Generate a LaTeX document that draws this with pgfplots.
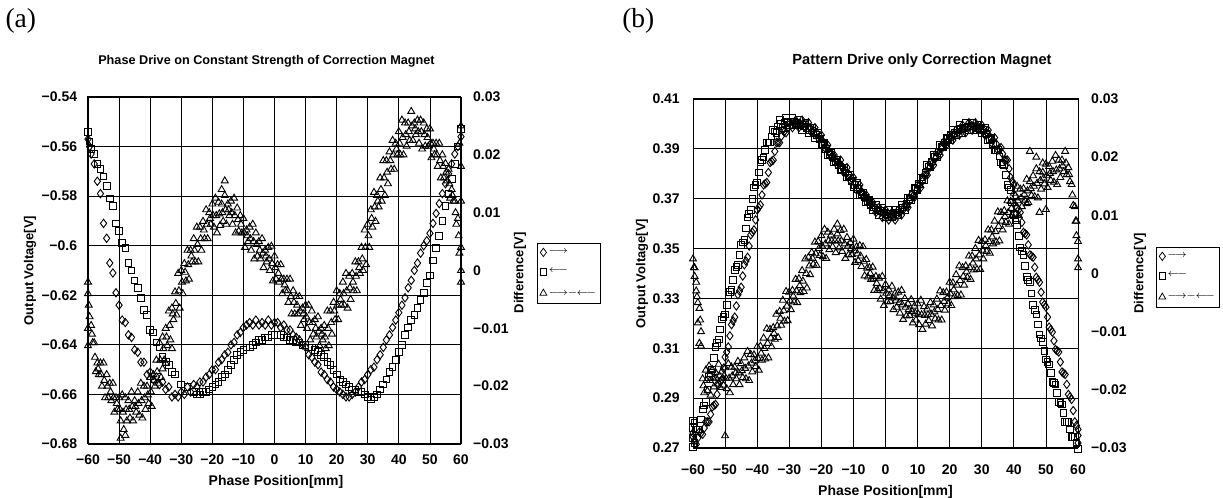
\documentclass[border=0pt]{standalone}
\usepackage{pgfplots}
\pgfplotsset{compat=1.18}
\usepackage{fontspec}
\setmainfont{Liberation Sans}
\newfontfamily\seriffont{Liberation Serif}

\pgfplotsset{
  dia/.style={only marks, mark=diamond, mark size=2.5pt, mark options={draw=black, fill=none, line width=0.55pt}},
  sqr/.style={only marks, mark=square, mark size=2.0pt, mark options={draw=black, fill=none, line width=0.55pt}},
  tri/.style={only marks, mark=triangle, mark size=2.4pt, mark options={draw=black, fill=none, line width=0.55pt}},
  common/.style={scale only axis, anchor=south west, xmin=-60, xmax=60, clip=false,
    tick label style={font=\bfseries\fontsize{8.4}{10}\selectfont},
    xlabel style={font=\bfseries\fontsize{8.4}{10}\selectfont},
    ylabel style={font=\bfseries\fontsize{7.8}{9}\selectfont},
    major tick length=0pt, axis line style={line width=0.6pt}},
  leftax/.style={common,
    xtick={-60,-50,...,60},
    xticklabels={−60,−50,−40,−30,−20,−10,0,10,20,30,40,50,60},
    grid=major, grid style={black, line width=0.45pt},
    xlabel={Phase Position[mm]}, ylabel={Output Voltage[V]}},
  rightax/.style={common, axis x line=none, axis y line*=right,
    ymin=-0.03, ymax=0.03, scaled y ticks=false,
    ytick={-0.03,-0.02,-0.01,0,0.01,0.02,0.03},
    yticklabels={−0.03,−0.02,−0.01,0,0.01,0.02,0.03},
    ylabel={Difference[V]},
    legend cell align=left,
    legend image code/.code={\draw[#1, mark options={line width=0.45pt}] plot coordinates {(0cm,0cm)};},
    legend style={anchor=north west, draw=black, line width=0.4pt,
      font=\fontsize{6}{7}\selectfont, row sep=6pt, inner xsep=1.5pt, inner ysep=2.5pt,
      nodes={inner sep=1pt}}},
}

\begin{document}
\begin{tikzpicture}
\useasboundingbox (0,0) rectangle (733.8pt,298.8pt);
\node[font=\seriffont\fontsize{16.5}{18}\selectfont] at (12.5pt,286.5pt) {(a)};
\node[font=\seriffont\fontsize{16.5}{18}\selectfont] at (383pt,286.5pt) {(b)};
\node[font=\bfseries\fontsize{7.6}{9}\selectfont] at (159.9pt,262.2pt) {Phase Drive on Constant Strength of Correction Magnet};
\node[font=\bfseries\fontsize{8.8}{10}\selectfont] at (553.2pt,262.2pt) {Pattern Drive only Correction Magnet};

%================ (a) =================
\begin{axis}[leftax, at={(52.8pt,32.4pt)}, width=223.8pt, height=208.2pt,
  ymin=-0.68, ymax=-0.54,
  ytick={-0.68,-0.66,-0.64,-0.62,-0.6,-0.58,-0.56,-0.54},
  yticklabels={−0.68,−0.66,−0.64,−0.62,−0.6,−0.58,−0.56,−0.54},
  xticklabel style={yshift=-2.8pt}, yticklabel style={xshift=-3pt},
  xlabel style={at={(axis description cs:0.504,-0.108)}, anchor=center},
  ylabel style={at={(axis description cs:-0.1555,0.5)}, anchor=center}]
\addplot[dia] coordinates {
(-60,-0.557)(-59.5,-0.560)(-59,-0.563)(-58,-0.567)(-57,-0.574)(-56,-0.579)(-55,-0.591)(-54,-0.597)
(-53,-0.607)(-52,-0.611)(-51,-0.619)(-50,-0.624)(-49,-0.630)(-48,-0.631)(-47,-0.636)(-46,-0.637)
(-45,-0.642)(-44,-0.643)(-43,-0.647)(-42,-0.647)(-41,-0.652)(-40,-0.651)(-39,-0.654)(-38,-0.653)
(-37,-0.656)(-36,-0.655)(-35,-0.658)(-34,-0.657)(-33,-0.661)(-32,-0.660)(-31,-0.661)(-30,-0.659)
(-29,-0.660)(-28,-0.657)(-27,-0.659)(-26,-0.656)(-25,-0.657)(-24,-0.655)(-23,-0.655)(-22,-0.653)
(-21,-0.652)(-20,-0.650)(-19,-0.650)(-18,-0.647)(-17,-0.646)(-16,-0.644)(-15,-0.643)(-14,-0.640)
(-13,-0.639)(-12,-0.636)(-11,-0.635)(-10,-0.633)(-9,-0.632)(-8,-0.631)(-7,-0.632)(-6,-0.630)
(-5,-0.632)(-4,-0.631)(-3,-0.632)(-2,-0.630)(-1,-0.632)(0,-0.631)(1,-0.631)(2,-0.633)
(3,-0.632)(4,-0.634)(5,-0.634)(6,-0.636)(7,-0.637)(8,-0.638)(9,-0.640)(10,-0.641)
(11,-0.644)(12,-0.645)(13,-0.647)(14,-0.648)(15,-0.651)(16,-0.652)(17,-0.654)(18,-0.655)
(19,-0.657)(20,-0.658)(21,-0.659)(22,-0.660)(23,-0.661)(24,-0.661)(25,-0.660)(26,-0.659)
(27,-0.657)(28,-0.655)(29,-0.654)(30,-0.652)(31,-0.650)(32,-0.649)(33,-0.646)(34,-0.644)
(35,-0.641)(36,-0.638)(37,-0.636)(38,-0.633)(39,-0.630)(40,-0.627)(41,-0.624)(42,-0.621)
(43,-0.617)(44,-0.614)(45,-0.610)(46,-0.607)(47,-0.603)(48,-0.600)(49,-0.598)(50,-0.595)
(51,-0.591)(52,-0.587)(53,-0.583)(54,-0.579)(55,-0.575)(56,-0.571)(57,-0.567)(58,-0.563)
(59,-0.560)(60,-0.556)
};
\addplot[sqr] coordinates {
(-60,-0.554)(-59.5,-0.558)(-59,-0.561)(-58,-0.563)(-57,-0.567)(-56,-0.569)(-55,-0.572)(-54,-0.576)
(-53,-0.581)(-52,-0.584)(-51,-0.591)(-50,-0.594)(-49,-0.599)(-48,-0.601)(-47,-0.607)(-46,-0.610)
(-45,-0.614)(-44,-0.617)(-43,-0.621)(-42,-0.626)(-41,-0.628)(-40,-0.634)(-39,-0.635)(-38,-0.639)
(-37,-0.641)(-36,-0.645)(-35,-0.647)(-34,-0.648)(-33,-0.651)(-32,-0.652)(-30,-0.656)(-28,-0.657)
(-26,-0.659)(-25,-0.660)(-24,-0.660)(-23,-0.659)(-22,-0.659)(-21,-0.658)(-20,-0.657)(-19,-0.656)
(-18,-0.655)(-17,-0.653)(-16,-0.652)(-15,-0.650)(-14,-0.648)(-13,-0.646)(-12,-0.644)(-11,-0.643)
(-10,-0.642)(-9,-0.641)(-8,-0.641)(-7,-0.640)(-6,-0.639)(-5,-0.638)(-4,-0.638)(-3,-0.637)
(-2,-0.637)(-1,-0.636)(0,-0.636)(1,-0.636)(2,-0.636)(3,-0.637)(4,-0.637)(5,-0.638)
(6,-0.638)(7,-0.639)(8,-0.639)(9,-0.640)(10,-0.640)(11,-0.641)(12,-0.641)(13,-0.642)
(14,-0.643)(15,-0.644)(16,-0.645)(17,-0.647)(18,-0.648)(19,-0.650)(20,-0.652)(21,-0.654)
(22,-0.655)(23,-0.656)(24,-0.657)(25,-0.658)(26,-0.658)(27,-0.659)(28,-0.659)(29,-0.660)
(30,-0.661)(31,-0.662)(32,-0.661)(33,-0.660)(34,-0.658)(35,-0.656)(36,-0.654)(37,-0.651)
(38,-0.649)(39,-0.646)(40,-0.643)(41,-0.640)(42,-0.636)(43,-0.633)(44,-0.630)(45,-0.628)
(46,-0.625)(47,-0.622)(48,-0.619)(49,-0.615)(50,-0.612)(51,-0.606)(52,-0.601)(53,-0.596)
(54,-0.590)(55,-0.584)(56,-0.579)(57,-0.573)(58,-0.567)(59,-0.560)(60,-0.553)
};
\end{axis}
\begin{axis}[rightax, at={(52.8pt,32.4pt)}, width=223.8pt, height=208.2pt,
  yticklabel style={xshift=3.8pt},
  ylabel style={at={(axis description cs:1.158,0.493)}, anchor=center},
  legend style={at={(axis description cs:1.204,0.579)}}]
\addlegendimage{dia}
\addlegendentry{$\longrightarrow$}
\addlegendimage{sqr}
\addlegendentry{$\longleftarrow$}
\addplot[tri] coordinates {
(-60,-0.004)(-59.5,-0.008)(-60,-0.002)(-60,-0.010)(-60,-0.013)
(-59,-0.0095)(-58.5,-0.0125)(-58,-0.0125)(-57.5,-0.0175)(-57,-0.016)(-56.5,-0.018)
(-56,-0.016)(-55.5,-0.020)(-55,-0.016)(-54.5,-0.022)(-54,-0.018)(-53.5,-0.022)
(-53,-0.0195)(-52.5,-0.0225)(-52,-0.0195)(-51.5,-0.0245)(-51,-0.022)(-50.5,-0.024)
(-50,-0.022)(-49.5,-0.026)(-49,-0.0215)(-48.5,-0.0275)(-48,-0.022)(-47.5,-0.026)
(-47,-0.0225)(-46.5,-0.0255)(-46,-0.021)(-45.5,-0.026)(-45,-0.0225)(-44.5,-0.0245)
(-44,-0.021)(-43.5,-0.025)(-43,-0.0195)(-42.5,-0.0255)(-42,-0.020)(-41.5,-0.024)
(-41,-0.020)(-40.5,-0.023)(-40,-0.0185)(-39.5,-0.0235)(-39,-0.018)(-38.5,-0.020)
(-38,-0.0155)(-37.5,-0.0195)(-37,-0.0125)(-36.5,-0.0185)(-36,-0.0115)(-35.5,-0.0155)
(-35,-0.010)(-34.5,-0.013)(-34,-0.007)(-33.5,-0.012)(-33,-0.0065)(-32.5,-0.0085)
(-32,-0.0037)(-31.5,-0.0077)(-31,-0.0005)(-30.5,-0.0065)(-30,0.0)(-29.5,-0.004)
(-29,0.0012)(-28.5,-0.0018)(-28,0.0035)(-27.5,-0.0015)(-27,0.0035)(-26.5,0.0015)
(-26,0.0055)(-25.5,0.0015)(-25,0.0075)(-24.5,0.0015)(-24,0.0075)(-23.5,0.0035)
(-23,0.0085)(-22.5,0.0055)(-22,0.0105)(-21.5,0.0055)(-21,0.010)(-20.5,0.008)
(-20,0.0115)(-19.5,0.0075)(-19,0.0125)(-18.5,0.0065)(-18,0.0118)(-17.5,0.0078)
(-17,0.0115)(-16.5,0.0085)(-16,0.013)(-15.5,0.008)(-15,0.0115)(-14.5,0.0095)
(-14,0.012)(-13.5,0.008)(-13,0.0125)(-12.5,0.0065)(-12,0.0108)(-11.5,0.0068)
(-11,0.0095)(-10.5,0.0065)(-10,0.009)(-9.5,0.004)(-9,0.007)(-8.5,0.005)
(-8,0.0075)(-7.5,0.0035)(-7,0.008)(-6.5,0.002)(-6,0.0065)(-5.5,0.0025)
(-5,0.005)(-4.5,0.002)(-4,0.0055)(-3.5,0.0005)(-3,0.0035)(-2.5,0.0015)
(-2,0.004)(-1.5,0.0)(-1,0.0042)(-0.5,-0.0018)(0,0.0025)(0.5,-0.0015)
(1,0.001)(1.5,-0.002)(2,0.001)(2.5,-0.004)(3,-0.0015)(3.5,-0.0035)
(4,-0.0015)(4.5,-0.0055)(5,-0.0015)(5.5,-0.0075)(6,-0.0035)(6.5,-0.0075)
(7,-0.0045)(7.5,-0.0075)(8,-0.0045)(8.5,-0.0095)(9,-0.0065)(9.5,-0.0085)
(10,-0.006)(10.5,-0.010)(11,-0.006)(11.5,-0.012)(12,-0.007)(12.5,-0.011)
(13,-0.0085)(13.5,-0.0115)(14,-0.008)(14.5,-0.013)(15,-0.010)(15.5,-0.012)
(16,-0.0095)(16.5,-0.0135)(17,-0.007)(17.5,-0.013)(18,-0.007)(18.5,-0.011)
(19,-0.0055)(19.5,-0.0085)(20,-0.0035)(20.5,-0.0085)(21,-0.004)(21.5,-0.006)
(22,-0.002)(22.5,-0.006)(23,-0.0005)(23.5,-0.0065)(24,-0.001)(24.5,-0.005)
(25,-0.0005)(25.5,-0.0035)(26,0.0015)(26.5,-0.0035)(27,0.0015)(27.5,-0.0005)
(28,0.004)(28.5,0.0)(29,0.007)(29.5,0.001)(30,0.008)(30.5,0.004)
(31,0.0105)(31.5,0.0075)(32,0.0135)(32.5,0.0085)(33,0.013)(33.5,0.011)
(34,0.016)(34.5,0.012)(35,0.019)(35.5,0.013)(36,0.019)(36.5,0.015)
(37,0.0205)(37.5,0.0175)(38,0.0225)(38.5,0.0175)(39,0.022)(39.5,0.020)
(40,0.024)(40.5,0.020)(41,0.026)(41.5,0.020)(42,0.0255)(42.5,0.0215)
(43,0.0255)(43.5,0.0225)(44,0.0275)(44.5,0.0225)(45,0.0255)(45.5,0.0235)
(46,0.026)(46.5,0.022)(47,0.026)(47.5,0.021)(48,0.0255)(48.5,0.0215)
(49,0.0245)(49.5,0.0215)(50,0.0245)(50.5,0.0195)(51,0.022)(51.5,0.020)
(52,0.022)(52.5,0.018)(53,0.022)(53.5,0.016)(54,0.020)(54.5,0.016)
(55,0.0185)(55.5,0.0155)(56,0.0175)(56.5,0.0125)(57,0.014)(57.5,0.012)
(58,0.012)(58.5,0.008)(59,0.009)(59.5,0.003)(60,0.004)(60,0.0)(60,-0.002)
(60,0.012)(60,0.018)(59.5,0.022)(60,0.025)
(-16,0.0155)(-17,0.014)(-35,-0.016)(-36,-0.017)(-33,-0.0135)(-48,-0.0285)(-49.5,-0.029)
(-59.75,-0.006)(-58.75,-0.011)(-57.75,-0.015)(-56.75,-0.017)(-55.75,-0.018)(-54.75,-0.019)
(-53.75,-0.020)(-52.75,-0.021)(-51.75,-0.022)(-50.75,-0.023)(-49.75,-0.024)(-48.75,-0.0245)
(-47.75,-0.024)(-46.75,-0.024)(-45.75,-0.0235)(-44.75,-0.0235)(-43.75,-0.023)(-42.75,-0.0225)
(-41.75,-0.022)(-40.75,-0.0215)(-39.75,-0.021)(-38.75,-0.019)(-37.75,-0.0175)(-36.75,-0.0155)
(-35.75,-0.0135)(-34.75,-0.0115)(-33.75,-0.0095)(-32.75,-0.0075)(-31.75,-0.0057)(-30.75,-0.0035)
(-29.75,-0.002)(-28.75,-0.0003)(-27.75,0.001)(-26.75,0.0025)(-25.75,0.0035)(-24.75,0.0045)
(-23.75,0.0055)(-22.75,0.007)(-21.75,0.008)(-20.75,0.009)(-19.75,0.0095)(-18.75,0.0095)
(-17.75,0.0098)(-16.75,0.010)(-15.75,0.0105)(-14.75,0.0105)(-13.75,0.010)(-12.75,0.0095)
(-11.75,0.0088)(-10.75,0.008)(-9.75,0.0065)(-8.75,0.006)(-7.75,0.0055)(-6.75,0.005)
(-5.75,0.0045)(-4.75,0.0035)(-3.75,0.003)(-2.75,0.0025)(-1.75,0.002)(-0.75,0.0012)
(0.25,0.0005)(1.25,-0.0005)(2.25,-0.0015)(3.25,-0.0025)(4.25,-0.0035)(5.25,-0.0045)
(6.25,-0.0055)(7.25,-0.006)(8.25,-0.007)(9.25,-0.0075)(10.25,-0.008)(11.25,-0.009)
(12.25,-0.009)(13.25,-0.010)(14.25,-0.0105)(15.25,-0.011)(16.25,-0.0115)(17.25,-0.010)
(18.25,-0.009)(19.25,-0.007)(20.25,-0.006)(21.25,-0.005)(22.25,-0.004)(23.25,-0.0035)
(24.25,-0.003)(25.25,-0.002)(26.25,-0.001)(27.25,0.0005)(28.25,0.002)(29.25,0.004)
(30.25,0.006)(31.25,0.009)(32.25,0.011)(33.25,0.012)(34.25,0.014)(35.25,0.016)
(36.25,0.017)(37.25,0.019)(38.25,0.020)(39.25,0.021)(40.25,0.022)(41.25,0.023)
(42.25,0.0235)(43.25,0.024)(44.25,0.025)(45.25,0.0245)(46.25,0.024)(47.25,0.024)
(48.25,0.0235)(49.25,0.023)(50.25,0.022)(51.25,0.021)(52.25,0.020)(53.25,0.019)
(54.25,0.018)(55.25,0.017)(56.25,0.015)(57.25,0.013)(58.25,0.010)(59.25,0.006)
};
\addlegendentry{$\longrightarrow\!\!-\!\!\longleftarrow$}
\end{axis}

%================ (b) =================
\begin{axis}[leftax, at={(415.8pt,30pt)}, width=231pt, height=209.4pt,
  ymin=0.27, ymax=0.41,
  ytick={0.27,0.29,0.31,0.33,0.35,0.37,0.39,0.41},
  yticklabels={0.27,0.29,0.31,0.33,0.35,0.37,0.39,0.41},
  xticklabel style={yshift=-6.3pt}, yticklabel style={xshift=-4.4pt},
  xlabel style={at={(axis description cs:0.5,-0.1246)}, anchor=center},
  ylabel style={at={(axis description cs:-0.1325,0.5)}, anchor=center}]
\addplot[dia] coordinates {
(-60,0.2745)(-59,0.2715)(-58,0.2765)(-57,0.2755)(-56,0.2805)(-55,0.2805)(-54,0.2865)(-53,0.2875)
(-52,0.2955)(-51,0.2975)(-50,0.3065)(-49,0.3105)(-48,0.3195)(-47,0.3225)(-46,0.3315)(-45,0.3345)
(-44,0.3435)(-43,0.3465)(-42,0.3555)(-41,0.3575)(-40,0.3655)(-39,0.3675)(-38,0.3755)(-37,0.3765)
(-36,0.3845)(-35,0.3855)(-34,0.3925)(-33,0.3925)(-32,0.3975)(-31,0.3965)(-30,0.4005)(-29,0.3985)
(-28,0.4015)(-27,0.3985)(-26,0.4015)(-25,0.3985)(-24,0.4005)(-23,0.3965)(-22,0.3985)(-21,0.3945)
(-20,0.3955)(-19,0.3905)(-18,0.3915)(-17,0.3865)(-16,0.3875)(-15,0.3835)(-14,0.3855)(-13,0.3805)
(-12,0.3825)(-11,0.3775)(-10,0.3785)(-9,0.3735)(-8,0.3755)(-7,0.3705)(-6,0.3715)(-5,0.3675)
(-4,0.3685)(-3,0.3645)(-2,0.3665)(-1,0.3625)(0,0.3655)(1,0.3615)(2,0.3645)(3,0.3615)
(4,0.3655)(5,0.3635)(6,0.3675)(7,0.3665)(8,0.3715)(9,0.3705)(10,0.3755)(11,0.3745)
(12,0.3795)(13,0.3795)(14,0.3845)(15,0.3835)(16,0.3885)(17,0.3875)(18,0.3925)(19,0.3915)
(20,0.3955)(21,0.3935)(22,0.3975)(23,0.3955)(24,0.3995)(25,0.3965)(26,0.4005)(27,0.3975)
(28,0.4005)(29,0.3975)(30,0.3995)(31,0.3955)(32,0.3975)(33,0.3925)(34,0.3945)(35,0.3895)
(36,0.3905)(37,0.3855)(38,0.3855)(39,0.3785)(40,0.3755)(41,0.3665)(42,0.3645)(43,0.3565)
(44,0.3555)(45,0.3475)(46,0.3465)(47,0.3385)(48,0.3365)(49,0.3285)(50,0.3265)(51,0.3185)
(52,0.3165)(53,0.3095)(54,0.3085)(55,0.3005)(56,0.2995)(57,0.2915)(58,0.2895)(59,0.2805)
(60,0.2775)(60,0.272)(60,0.275)(-60,0.276)
(-59.5,0.273)(-58.5,0.274)(-57.5,0.276)(-56.5,0.278)(-55.5,0.2805)(-54.5,0.2835)(-53.5,0.287)
(-52.5,0.2915)(-51.5,0.2965)(-50.5,0.302)(-49.5,0.3085)(-48.5,0.315)(-47.5,0.321)(-46.5,0.327)
(-45.5,0.333)(-44.5,0.339)(-43.5,0.345)(-42.5,0.351)(-41.5,0.3565)(-40.5,0.3615)(-39.5,0.3665)
(-38.5,0.3715)(-37.5,0.376)(-36.5,0.3805)(-35.5,0.385)(-34.5,0.389)(-33.5,0.3925)(-32.5,0.395)
(-31.5,0.397)(-30.5,0.3985)(-29.5,0.3995)(-28.5,0.4)(-27.5,0.4)(-26.5,0.4)(-25.5,0.4)
(-24.5,0.3995)(-23.5,0.3985)(-22.5,0.3975)(-21.5,0.3965)(-20.5,0.395)(-19.5,0.393)(-18.5,0.391)
(-17.5,0.389)(-16.5,0.387)(-15.5,0.3855)(-14.5,0.3845)(-13.5,0.383)(-12.5,0.3815)(-11.5,0.38)
(-10.5,0.378)(-9.5,0.376)(-8.5,0.3745)(-7.5,0.373)(-6.5,0.371)(-5.5,0.3695)(-4.5,0.368)
(-3.5,0.3665)(-2.5,0.3655)(-1.5,0.3645)(-0.5,0.364)(0.5,0.3635)(1.5,0.363)(2.5,0.363)
(3.5,0.3635)(4.5,0.3645)(5.5,0.3655)(6.5,0.367)(7.5,0.369)(8.5,0.371)(9.5,0.373)
(10.5,0.375)(11.5,0.377)(12.5,0.3795)(13.5,0.382)(14.5,0.384)(15.5,0.386)(16.5,0.388)
(17.5,0.39)(18.5,0.392)(19.5,0.3935)(20.5,0.3945)(21.5,0.3955)(22.5,0.3965)(23.5,0.3975)
(24.5,0.398)(25.5,0.3985)(26.5,0.399)(27.5,0.399)(28.5,0.399)(29.5,0.3985)(30.5,0.3975)
(31.5,0.3965)(32.5,0.395)(33.5,0.3935)(34.5,0.392)(35.5,0.39)(36.5,0.388)(37.5,0.3855)
(38.5,0.382)(39.5,0.377)(40.5,0.371)(41.5,0.3655)(42.5,0.3605)(43.5,0.356)(44.5,0.3515)
(45.5,0.347)(46.5,0.3425)(47.5,0.3375)(48.5,0.3325)(49.5,0.3275)(50.5,0.3225)(51.5,0.3175)
(52.5,0.313)(53.5,0.309)(54.5,0.3045)(55.5,0.3)(56.5,0.2955)(57.5,0.2905)(58.5,0.285)(59.5,0.279)
};
\addplot[sqr] coordinates {
(-60,0.2705)(-59,0.2775)(-58,0.2775)(-57,0.2855)(-56,0.2885)(-55,0.2985)(-54,0.3015)(-53,0.3105)
(-52,0.3135)(-51,0.3215)(-50,0.3235)(-49,0.3315)(-48,0.3335)(-47,0.3415)(-46,0.3435)(-45,0.3515)
(-44,0.3535)(-43,0.3625)(-42,0.3655)(-41,0.3745)(-40,0.3765)(-39,0.3845)(-38,0.3865)(-37,0.3925)
(-36,0.3925)(-35,0.3975)(-34,0.3965)(-33,0.4015)(-32,0.3985)(-31,0.4025)(-30,0.3995)(-29,0.4025)
(-28,0.3995)(-27,0.4015)(-26,0.3975)(-25,0.4005)(-24,0.3965)(-23,0.3985)(-22,0.3945)(-21,0.3965)
(-20,0.3915)(-19,0.3925)(-18,0.3875)(-17,0.3885)(-16,0.3845)(-15,0.3855)(-14,0.3815)(-13,0.3825)
(-12,0.3785)(-11,0.3795)(-10,0.3745)(-9,0.3765)(-8,0.3715)(-7,0.3725)(-6,0.3685)(-5,0.3695)
(-4,0.3655)(-3,0.3675)(-2,0.3635)(-1,0.3665)(0,0.3625)(1,0.3655)(2,0.3625)(3,0.3655)
(4,0.3635)(5,0.3675)(6,0.3655)(7,0.3705)(8,0.3695)(9,0.3745)(10,0.3735)(11,0.3785)
(12,0.3775)(13,0.3835)(14,0.3825)(15,0.3875)(16,0.3865)(17,0.3915)(18,0.3905)(19,0.3945)
(20,0.3935)(21,0.3975)(22,0.3955)(23,0.3995)(24,0.3965)(25,0.4005)(26,0.3975)(27,0.4005)
(28,0.3975)(29,0.3995)(30,0.3965)(31,0.3985)(32,0.3935)(33,0.3945)(34,0.3895)(35,0.3895)
(36,0.3845)(37,0.3835)(38,0.3755)(39,0.3735)(40,0.3635)(41,0.3595)(42,0.3505)(43,0.3475)
(44,0.3385)(45,0.3365)(46,0.3275)(47,0.3235)(48,0.3155)(49,0.3125)(50,0.3055)(51,0.3035)
(52,0.2965)(53,0.2955)(54,0.2885)(55,0.2875)(56,0.2805)(57,0.2805)(58,0.2745)(59,0.2745)
(60,0.2695)(-60,0.274)(-60,0.278)(-60,0.281)(-59.5,0.272)(-59.5,0.280)
(-58.5,0.2775)(-57.5,0.2815)(-56.5,0.287)(-55.5,0.2935)(-54.5,0.3)(-53.5,0.306)(-52.5,0.312)
(-51.5,0.3175)(-50.5,0.3225)(-49.5,0.3275)(-48.5,0.3325)(-47.5,0.3375)(-46.5,0.3425)(-45.5,0.3475)
(-44.5,0.3525)(-43.5,0.358)(-42.5,0.364)(-41.5,0.37)(-40.5,0.3755)(-39.5,0.3805)(-38.5,0.3855)
(-37.5,0.3895)(-36.5,0.3925)(-35.5,0.395)(-34.5,0.397)(-33.5,0.399)(-32.5,0.4)(-31.5,0.4005)
(-30.5,0.401)(-29.5,0.401)(-28.5,0.401)(-27.5,0.4005)(-26.5,0.3995)(-25.5,0.399)(-24.5,0.3985)
(-23.5,0.3975)(-22.5,0.3965)(-21.5,0.3955)(-20.5,0.394)(-19.5,0.392)(-18.5,0.39)(-17.5,0.388)
(-16.5,0.3865)(-15.5,0.385)(-14.5,0.3835)(-13.5,0.382)(-12.5,0.3805)(-11.5,0.379)(-10.5,0.377)
(-9.5,0.3755)(-8.5,0.374)(-7.5,0.372)(-6.5,0.3705)(-5.5,0.369)(-4.5,0.3675)(-3.5,0.3665)
(-2.5,0.3655)(-1.5,0.365)(-0.5,0.3645)(0.5,0.364)(1.5,0.364)(2.5,0.364)(3.5,0.3645)
(4.5,0.3655)(5.5,0.3665)(6.5,0.368)(7.5,0.37)(8.5,0.372)(9.5,0.374)(10.5,0.376)
(11.5,0.378)(12.5,0.3805)(13.5,0.383)(14.5,0.385)(15.5,0.387)(16.5,0.389)(17.5,0.391)
(18.5,0.3925)(19.5,0.394)(20.5,0.3955)(21.5,0.3965)(22.5,0.3975)(23.5,0.398)(24.5,0.3985)
(25.5,0.399)(26.5,0.399)(27.5,0.399)(28.5,0.3985)(29.5,0.398)(30.5,0.3975)(31.5,0.396)
(32.5,0.394)(33.5,0.392)(34.5,0.3895)(35.5,0.387)(36.5,0.384)(37.5,0.3795)(38.5,0.3745)
(39.5,0.3685)(40.5,0.3615)(41.5,0.355)(42.5,0.349)(43.5,0.343)(44.5,0.3375)(45.5,0.332)
(46.5,0.3255)(47.5,0.3195)(48.5,0.314)(49.5,0.309)(50.5,0.3045)(51.5,0.3)(52.5,0.296)
(53.5,0.292)(54.5,0.288)(55.5,0.284)(56.5,0.2805)(57.5,0.2775)(58.5,0.2745)(59.5,0.272)
};
\end{axis}
\begin{axis}[rightax, at={(415.8pt,30pt)}, width=231pt, height=209.4pt,
  yticklabel style={xshift=4.4pt},
  ylabel style={at={(axis description cs:1.161,0.501)}, anchor=center},
  legend style={at={(axis description cs:1.2026,0.576)}}]
\addlegendimage{dia}
\addlegendentry{$\longrightarrow$}
\addlegendimage{sqr}
\addlegendentry{$\longleftarrow$}
\addplot[tri] coordinates {
(-60,0.0025)(-59.5,-0.0005)(-59,-0.003)(-58.5,-0.005)(-58,-0.006)(-57.5,-0.010)
(-57,-0.0181)(-56.5,-0.0205)(-56,-0.0166)(-55.5,-0.0202)(-55,-0.0159)(-54.5,-0.0209)
(-54,-0.0165)(-53.5,-0.0195)(-53,-0.017)(-52.5,-0.019)(-52,-0.0156)(-51.5,-0.0196)
(-51,-0.0168)(-50.5,-0.0192)(-50,-0.0162)(-49.5,-0.0198)(-49,-0.0155)(-48.5,-0.0205)
(-48,-0.0161)(-47.5,-0.0191)(-47,-0.0161)(-46.5,-0.0181)(-46,-0.0151)(-45.5,-0.0191)
(-45,-0.0155)(-44.5,-0.0179)(-44,-0.0145)(-43.5,-0.0181)(-43,-0.0134)(-42.5,-0.0184)
(-42,-0.0139)(-41.5,-0.0169)(-41,-0.014)(-40.5,-0.016)(-40,-0.0126)(-39.5,-0.0166)
(-39,-0.0125)(-38.5,-0.0149)(-38,-0.0111)(-37.5,-0.0147)(-37,-0.0095)(-36.5,-0.0145)
(-36,-0.0096)(-35.5,-0.0126)(-35,-0.0093)(-34.5,-0.0113)(-34,-0.007)(-33.5,-0.011)
(-33,-0.0065)(-32.5,-0.0089)(-32,-0.0046)(-31.5,-0.0082)(-31,-0.0031)(-30.5,-0.0081)
(-30,-0.0032)(-29.5,-0.0062)(-29,-0.0029)(-28.5,-0.0049)(-28,-0.001)(-27.5,-0.005)
(-27,-0.0009)(-26.5,-0.0033)(-26,0.0005)(-25.5,-0.0031)(-25,0.0025)(-24.5,-0.0025)
(-24,0.0028)(-23.5,-0.0002)(-23,0.0036)(-22.5,0.0016)(-22,0.0054)(-21.5,0.0014)
(-21,0.0055)(-20.5,0.0031)(-20,0.0065)(-19.5,0.0029)(-19,0.0076)(-18.5,0.0026)
(-18,0.0071)(-17.5,0.0041)(-17,0.0066)(-16.5,0.0046)(-16,0.0076)(-15.5,0.0036)
(-15,0.0068)(-14.5,0.0044)(-14,0.0074)(-13.5,0.0038)(-13,0.0076)(-12.5,0.0026)
(-12,0.0062)(-11.5,0.0032)(-11,0.0053)(-10.5,0.0033)(-10,0.0059)(-9.5,0.0019)
(-9,0.0046)(-8.5,0.0022)(-8,0.0048)(-7.5,0.0012)(-7,0.0046)(-6.5,-0.0004)
(-6,0.0024)(-5.5,-0.0006)(-5,0.001)(-4.5,-0.001)(-4,0.0011)(-3.5,-0.0029)
(-3,-0.0005)(-2.5,-0.0029)(-2,-0.0008)(-1.5,-0.0044)(-1,-0.0005)(-0.5,-0.0055)
(0,-0.0019)(0.5,-0.0049)(1,-0.0028)(1.5,-0.0048)(2,-0.0022)(2.5,-0.0062)
(3,-0.0034)(3.5,-0.0058)(4,-0.0032)(4.5,-0.0068)(5,-0.0029)(5.5,-0.0079)
(6,-0.0043)(6.5,-0.0073)(7,-0.0052)(7.5,-0.0072)(8,-0.0045)(8.5,-0.0085)
(9,-0.0056)(9.5,-0.008)(10,-0.0052)(10.5,-0.0088)(11,-0.0046)(11.5,-0.0096)
(12,-0.0057)(12.5,-0.0087)(13,-0.0061)(13.5,-0.0081)(14,-0.005)(14.5,-0.009)
(15,-0.0054)(15.5,-0.0078)(16,-0.0044)(16.5,-0.008)(17,-0.003)(17.5,-0.008)
(18,-0.0033)(18.5,-0.0063)(19,-0.0032)(19.5,-0.0052)(20,-0.0015)(20.5,-0.0055)
(21,-0.0016)(21.5,-0.004)(22,-0.0002)(22.5,-0.0038)(23,0.0013)(23.5,-0.0037)
(24,0.001)(24.5,-0.002)(25,0.0013)(25.5,-0.0007)(26,0.003)(26.5,-0.001)
(27,0.003)(27.5,0.0006)(28,0.0043)(28.5,0.0007)(29,0.0057)(29.5,0.0007)
(30,0.0055)(30.5,0.0025)(31,0.0058)(31.5,0.0038)(32,0.0075)(32.5,0.0035)
(33,0.0075)(33.5,0.0051)(34,0.009)(34.5,0.0054)(35,0.0106)(35.5,0.0056)
(36,0.0105)(36.5,0.0075)(37,0.0108)(37.5,0.0088)(38,0.0125)(38.5,0.0085)
(39,0.0124)(39.5,0.01)(40,0.0138)(40.5,0.0102)(41,0.015)(41.5,0.01)
(42,0.0145)(42.5,0.0115)(43,0.0146)(43.5,0.0126)(44,0.0162)(44.5,0.0122)
(45,0.0158)(45.5,0.0134)(46,0.0168)(46.5,0.0132)(47,0.018)(47.5,0.013)
(48,0.0175)(48.5,0.0145)(49,0.0174)(49.5,0.0154)(50,0.0188)(50.5,0.0148)
(51,0.0184)(51.5,0.016)(52,0.0193)(52.5,0.0157)(53,0.0203)(53.5,0.0153)
(54,0.0195)(54.5,0.0165)(55,0.0195)(55.5,0.0175)(56,0.021)(56.5,0.017)
(57,0.0182)(57.5,0.0158)(58,0.0153)(58.5,0.0117)(59,0.0115)(59.5,0.0065)
(60,0.0055)(60,0.0025)(60,0.001)(59.5,0.009)
(-50,-0.0279)(-58.5,-0.0085)(-58,-0.012)(-57.5,-0.0125)(-15,0.0085)(45,0.021)
(47,0.020)(48,0.0105)(49,0.019)(50,0.011)(44,0.012)(-59.5,0.001)(-59,-0.0015)
(-59.75,0.001)(-58.75,-0.004)(-57.75,-0.008)(-56.75,-0.0193)(-55.75,-0.0184)(-54.75,-0.0184)
(-53.75,-0.018)(-52.75,-0.018)(-51.75,-0.0176)(-50.75,-0.018)(-49.75,-0.018)(-48.75,-0.018)
(-47.75,-0.0176)(-46.75,-0.0171)(-45.75,-0.0171)(-44.75,-0.0167)(-43.75,-0.0163)(-42.75,-0.0159)
(-41.75,-0.0154)(-40.75,-0.015)(-39.75,-0.0146)(-38.75,-0.0137)(-37.75,-0.0129)(-36.75,-0.012)
(-35.75,-0.0111)(-34.75,-0.0103)(-33.75,-0.009)(-32.75,-0.0077)(-31.75,-0.0064)(-30.75,-0.0056)
(-29.75,-0.0047)(-28.75,-0.0039)(-27.75,-0.003)(-26.75,-0.0021)(-25.75,-0.0013)(-24.75,0.0)
(-23.75,0.0013)(-22.75,0.0026)(-21.75,0.0034)(-20.75,0.0043)(-19.75,0.0047)(-18.75,0.0051)
(-17.75,0.0056)(-16.75,0.0056)(-15.75,0.0056)(-14.75,0.0056)(-13.75,0.0056)(-12.75,0.0051)
(-11.75,0.0047)(-10.75,0.0043)(-9.75,0.0039)(-8.75,0.0034)(-7.75,0.003)(-6.75,0.0021)
(-5.75,0.0009)(-4.75,0.0)(-3.75,-0.0009)(-2.75,-0.0017)(-1.75,-0.0026)(-0.75,-0.003)
(0.25,-0.0034)(1.25,-0.0038)(2.25,-0.0042)(3.25,-0.0046)(4.25,-0.005)(5.25,-0.0054)
(6.25,-0.0058)(7.25,-0.0062)(8.25,-0.0065)(9.25,-0.0068)(10.25,-0.007)(11.25,-0.0071)
(12.25,-0.0072)(13.25,-0.0071)(14.25,-0.007)(15.25,-0.0066)(16.25,-0.0062)(17.25,-0.0055)
(18.25,-0.0048)(19.25,-0.0042)(20.25,-0.0035)(21.25,-0.0028)(22.25,-0.002)(23.25,-0.0012)
(24.25,-0.0005)(25.25,0.0003)(26.25,0.001)(27.25,0.0018)(28.25,0.0025)(29.25,0.0032)
(30.25,0.004)(31.25,0.0048)(32.25,0.0055)(33.25,0.0063)(34.25,0.0072)(35.25,0.0081)
(36.25,0.009)(37.25,0.0098)(38.25,0.0105)(39.25,0.0112)(40.25,0.012)(41.25,0.0125)
(42.25,0.013)(43.25,0.0136)(44.25,0.0142)(45.25,0.0146)(46.25,0.015)(47.25,0.0155)
(48.25,0.016)(49.25,0.0164)(50.25,0.0168)(51.25,0.0172)(52.25,0.0175)(53.25,0.0178)
(54.25,0.018)(55.25,0.0185)(56.25,0.019)(57.25,0.017)(58.25,0.0135)(59.25,0.009)
};
\addlegendentry{$\longrightarrow\!\!-\!\!\longleftarrow$}
\end{axis}
\end{tikzpicture}
\end{document}
